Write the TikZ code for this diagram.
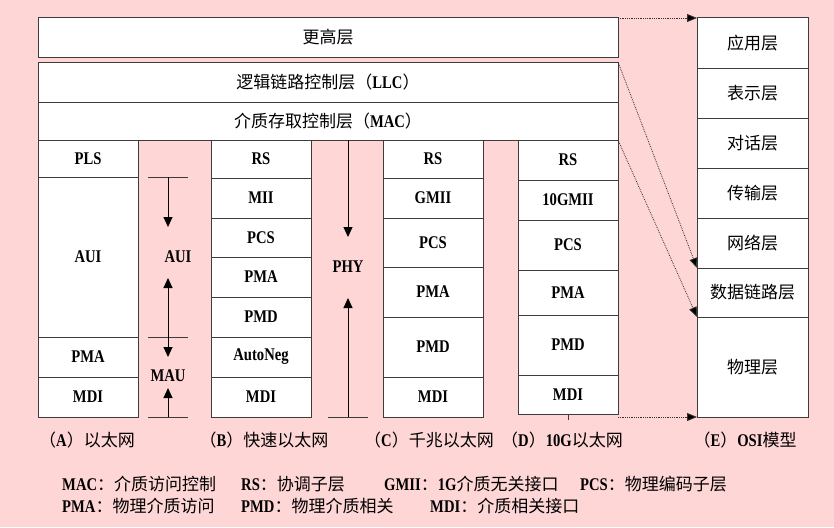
\documentclass[tikz,border=0pt]{standalone}
\usepackage{fontspec}
\setmainfont{Noto Sans CJK SC}
\newfontfamily\latf{Liberation Serif}[FakeStretch=0.82,Scale=1.05]
\usetikzlibrary{arrows.meta}
\definecolor{bgpink}{RGB}{255,214,214}
\definecolor{edge}{RGB}{60,60,60}
\newcommand\lt[1]{{\latf\bfseries #1}}
\newcommand\bx[6]{\node[box, minimum width={(#4-#2)*1pt}, minimum height={(#5-#3)*1pt}] (#1) at ({(#2+#4)/2},{(#3+#5)/2}) {#6};}
\tikzset{
  box/.style={draw=edge, line width=1pt, fill=white, inner sep=0pt, outer sep=0pt, font=\fontsize{17}{19}\selectfont},
  lbl/.style={inner sep=0pt, font=\fontsize{17}{19}\selectfont},
  leg/.style={inner sep=0pt, anchor=west, font=\fontsize{17}{19}\selectfont},
  tick/.style={line width=1pt, draw=edge},
  arr/.style={line width=1pt, -{Triangle[length=10pt,width=9pt]}},
  darr/.style={line width=1pt, {Triangle[length=10pt,width=9pt]}-{Triangle[length=10pt,width=9pt]}},
  dots/.style={densely dotted, line width=0.8pt, draw=black!80, -{Triangle[length=10pt,width=8pt,fill=black]}}
}
\begin{document}
\begin{tikzpicture}[x=1pt,y=-1pt]
\path[fill=bgpink] (0,0) rectangle (834,527);
\useasboundingbox (0,0) rectangle (834,527);
% upper layers
\bx{hl}{38}{18}{618}{57}{更高层}
\bx{llc}{38}{62}{618}{102}{逻辑链路控制层（\lt{LLC}）}
\bx{mac}{38}{102}{618}{140}{介质存取控制层（\lt{MAC}）}
% column A
\bx{plsA}{38}{140}{138}{177}{\lt{PLS}}
\bx{auiA}{38}{177}{138}{337}{\lt{AUI}}
\bx{pmaA}{38}{337}{138}{377}{\lt{PMA}}
\bx{mdiA}{38}{377}{138}{417}{\lt{MDI}}
% column B
\bx{rsB}{211}{140}{311}{178}{\lt{RS}}
\bx{miiB}{211}{178}{311}{218}{\lt{MII}}
\bx{pcsB}{211}{218}{311}{257}{\lt{PCS}}
\bx{pmaB}{211}{257}{311}{297}{\lt{PMA}}
\bx{pmdB}{211}{297}{311}{337}{\lt{PMD}}
\bx{anB}{211}{337}{311}{377}{\lt{AutoNeg}}
\bx{mdiB}{211}{377}{311}{417}{\lt{MDI}}
% column C
\bx{rsC}{383}{140}{483}{178}{\lt{RS}}
\bx{gmiiC}{383}{178}{483}{218}{\lt{GMII}}
\bx{pcsC}{383}{218}{483}{267}{\lt{PCS}}
\bx{pmaC}{383}{267}{483}{317}{\lt{PMA}}
\bx{pmdC}{383}{317}{483}{377}{\lt{PMD}}
\bx{mdiC}{383}{377}{483}{417}{\lt{MDI}}
% column D
\bx{rsD}{518}{140}{618}{180}{\lt{RS}}
\bx{gmiiD}{518}{180}{618}{220}{\lt{10GMII}}
\bx{pcsD}{518}{220}{618}{270}{\lt{PCS}}
\bx{pmaD}{518}{270}{618}{315}{\lt{PMA}}
\bx{pmdD}{518}{315}{618}{375}{\lt{PMD}}
\bx{mdiD}{518}{375}{618}{414}{\lt{MDI}}
% OSI column
\bx{app}{697}{18}{808}{68}{应用层}
\bx{pres}{697}{68}{808}{118}{表示层}
\bx{sess}{697}{118}{808}{168}{对话层}
\bx{trans}{697}{168}{808}{218}{传输层}
\bx{net}{697}{218}{808}{268}{网络层}
\bx{dl}{697}{268}{808}{317}{数据链路层}
\bx{phy}{697}{317}{808}{417}{物理层}
% AUI / MAU gap
\coordinate (tA1) at (148,177); \coordinate (tA1e) at (188,177);
\coordinate (tA2) at (148,337); \coordinate (tA2e) at (188,337);
\coordinate (tA3) at (148,417); \coordinate (tA3e) at (188,417);
\draw[tick] (tA1) -- (tA1e);
\draw[tick] (tA2) -- (tA2e);
\draw[tick] (tA3) -- (tA3e);
\coordinate (a1s) at (168,177); \coordinate (a1e) at (168,227);
\coordinate (a2s) at (168,278); \coordinate (a2e) at (168,357);
\coordinate (a3s) at (168,417); \coordinate (a3e) at (168,388);
\draw[arr] (a1s) -- (a1e);
\draw[darr] (a2s) -- (a2e);
\draw[arr] (a3s) -- (a3e);
\node[lbl] (auiG) at (178,257) {\lt{AUI}};
\node[lbl] (mauG) at (168,376) {\lt{MAU}};
% PHY gap
\coordinate (tP) at (328,417); \coordinate (tPe) at (368,417);
\draw[tick] (tP) -- (tPe);
\coordinate (p1s) at (348,140); \coordinate (p1e) at (348,237);
\coordinate (p2s) at (348,417); \coordinate (p2e) at (348,298);
\draw[arr] (p1s) -- (p1e);
\draw[arr] (p2s) -- (p2e);
\node[lbl] (phyG) at (348,267) {\lt{PHY}};
% small tick under column D
\coordinate (dTick) at (568,420);
\draw[line width=0.8pt, draw=edge] (mdiD.south) -- (dTick);
% dotted mapping arrows
\coordinate (dBot) at (618,417);
\draw[dots] (hl.north east) -- (app.north west);
\draw[dots] (llc.north east) -- (net.south west);
\draw[dots] (mac.south east) -- (dl.south west);
\draw[dots] (dBot) -- (phy.south west);
% captions
\node[lbl] (capA) at (87,440) {（\lt{A}）以太网};
\node[lbl] (capB) at (264,440) {（\lt{B}）快速以太网};
\node[lbl] (capC) at (429,440) {（\lt{C}）千兆以太网};
\node[lbl] (capD) at (562,440) {（\lt{D}）\lt{10G}以太网};
\node[lbl] (capE) at (745,440) {（\lt{E}）\lt{OSI}模型};
% legend
\node[leg] (l1) at (62,484) {\lt{MAC}：介质访问控制};
\node[leg] (l2) at (241,484) {\lt{RS}：协调子层};
\node[leg] (l3) at (384,484) {\lt{GMII}：\lt{1G}介质无关接口};
\node[leg] (l4) at (580,484) {\lt{PCS}：物理编码子层};
\node[leg] (l5) at (62,506) {\lt{PMA}：物理介质访问};
\node[leg] (l6) at (241,506) {\lt{PMD}：物理介质相关};
\node[leg] (l7) at (430,506) {\lt{MDI}：介质相关接口};
\end{tikzpicture}
\end{document}
